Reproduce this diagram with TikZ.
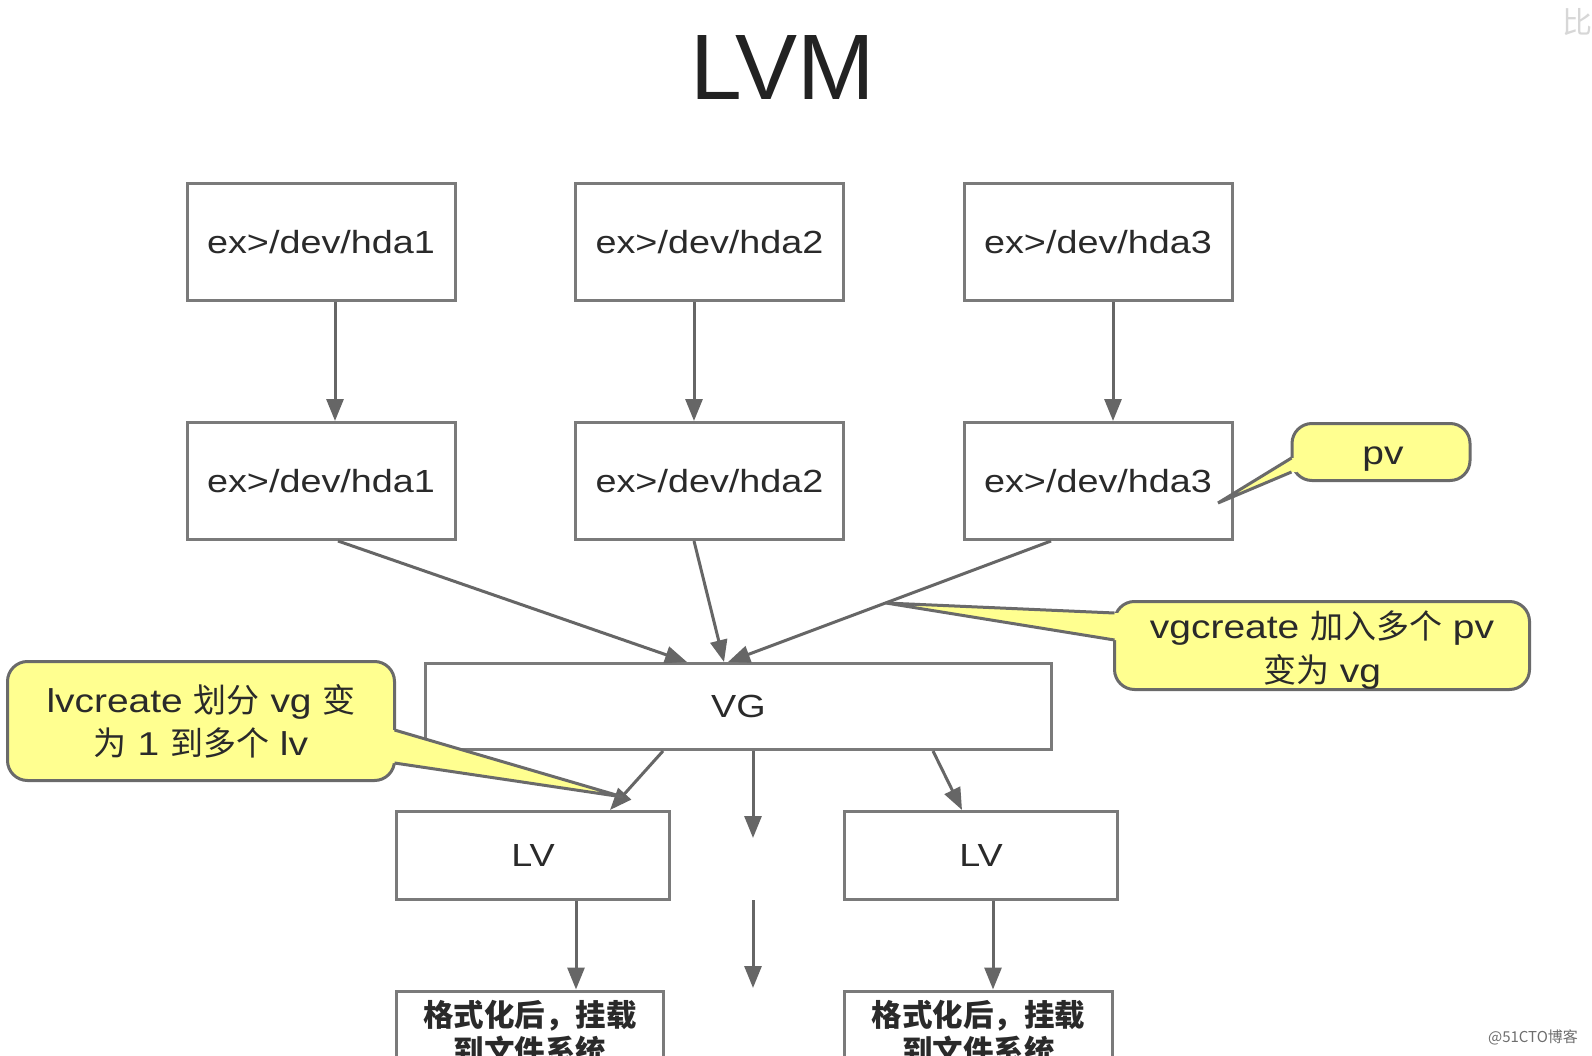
\documentclass[tikz,border=0pt]{standalone}
\usepackage{fontspec}
\setmainfont{Liberation Sans}[FakeStretch=1.18]
\newfontfamily\titlefont{Liberation Sans}
\newfontfamily\cjk{Noto Sans CJK SC}
\usetikzlibrary{arrows.meta}
\definecolor{boxline}{HTML}{7A7A7A}
\definecolor{arrline}{HTML}{666666}
\definecolor{txt}{HTML}{2A2A2A}
\definecolor{cfill}{HTML}{FFFF90}
\definecolor{cline}{HTML}{6A6A6A}
\begin{document}
\begin{tikzpicture}[x=1pt,y=-1pt,
  box/.style={draw=boxline, line width=3pt, fill=white, minimum width=268pt, minimum height=117pt, inner sep=0pt, text=txt, font=\fontsize{32}{38}\selectfont},
  arr/.style={draw=arrline, line width=3pt, -{Triangle[length=22pt,width=17pt]}},
  cbody/.style={draw=cline, line width=3pt, fill=cfill, rounded corners=20pt, inner sep=0pt, text=txt, font=\fontsize{33}{43}\selectfont, align=center},
  cptr/.style={draw=cline, line width=3pt, line join=miter},
  ftext/.style={text=txt, align=center, font=\cjk\bfseries\fontsize{30.5}{36}\selectfont}]
\useasboundingbox (0,0) rectangle (1592,1056);
\clip (0,0) rectangle (1592,1056);
\fill[white] (0,0) rectangle (1592,1056);

% title
\node[anchor=base, text={rgb,255:red,34;green,34;blue,34}, font=\titlefont\fontsize{93}{100}\selectfont, inner sep=0pt] (title) at (783,100) {LVM};

% top row
\node[box] (t1) at (321,242.5) {ex>/dev/hda1};
\node[box] (t2) at (709.5,242.5) {ex>/dev/hda2};
\node[box] (t3) at (1098,242.5) {ex>/dev/hda3};
% second row
\node[box] (p1) at (321,481) {ex>/dev/hda1};
\node[box] (p2) at (709.5,481) {ex>/dev/hda2};
\node[box] (p3) at (1098,481) {ex>/dev/hda3};
% VG
\node[box, minimum width=626pt, minimum height=86pt] (vg) at (738.5,706.5) {VG};
% LV
\node[box, minimum width=273pt, minimum height=88pt] (lv1) at (533,855.5) {LV};
\node[box, minimum width=273pt, minimum height=88pt] (lv2) at (981,855.5) {LV};
% bottom boxes
\node[box, minimum width=267pt, minimum height=140pt, anchor=north] (f1) at (530,989.5) {};
\node[box, minimum width=268pt, minimum height=140pt, anchor=north] (f2) at (978.5,989.5) {};
\node[ftext] (f1t) at (530,1033) {格式化后，挂载\\到文件系统};
\node[ftext] (f2t) at (978.5,1033) {格式化后，挂载\\到文件系统};

% arrows
\draw[arr] ([xshift=14pt]t1.south) -- ([xshift=14pt]p1.north);
\draw[arr] ([xshift=-15.5pt]t2.south) -- ([xshift=-15.5pt]p2.north);
\draw[arr] ([xshift=15pt]t3.south) -- ([xshift=15pt]p3.north);

\draw[arr] ([xshift=17pt]p1.south) -- ([xshift=-51.5pt]vg.north);
\draw[arr] ([xshift=-15.5pt]p2.south) -- ([xshift=-14.5pt]vg.north);
\draw[arr] ([xshift=-47pt]p3.south) -- ([xshift=-10.5pt]vg.north);

\coordinate (m1) at (753,838);
\coordinate (m2s) at (753,900);
\coordinate (m2e) at (753,988);
\draw[arr] ([xshift=14.5pt]vg.south) -- (m1);
\draw[arr] (m2s) -- (m2e);

\draw[arr] ([xshift=-75.5pt]vg.south) -- ([xshift=77pt]lv1.north);
\draw[arr] ([xshift=194.5pt]vg.south) -- ([xshift=-19pt]lv2.north);

\draw[arr] ([xshift=43pt]lv1.south) -- ([xshift=46pt]f1.north);
\draw[arr] ([xshift=12pt]lv2.south) -- ([xshift=14.5pt]f2.north);

% callout: pv
\node[cbody, minimum width=178pt, minimum height=57pt] (pvb) at (1381,452) {};
\node[text=txt, font=\fontsize{33}{43}\selectfont, inner sep=0pt] (pvt) at (1383,459) {pv};
\coordinate (pvA) at (1291.5,458);
\coordinate (pvB) at (1291.5,472);
\coordinate (pvT) at (1218,503);
\fill[cfill] (pvT) -- (pvA) -- ([xshift=6pt]pvA) -- ([xshift=6pt]pvB) -- (pvB) -- cycle;
\draw[cptr] (pvA) -- (pvT) -- (pvB);

% callout: vgcreate
\node[cbody, minimum width=415pt, minimum height=88pt] (vgb) at (1322,645.5) {};
\node[text=txt, font=\fontsize{33}{44}\selectfont, align=center, inner sep=0pt] (vgt) at (1322,650) {vgcreate {\cjk 加入多个} pv\\{\cjk 变为} vg};
\coordinate (vgA) at (1114.5,613);
\coordinate (vgB) at (1114.5,640);
\coordinate (vgT) at (886,603);
\fill[cfill] (vgT) -- (vgA) -- ([xshift=6pt]vgA) -- ([xshift=6pt]vgB) -- (vgB) -- cycle;
\draw[cptr] (vgA) -- (vgT) -- (vgB);

% callout: lvcreate
\node[cbody, minimum width=387pt, minimum height=119pt] (lvb) at (201,721) {lvcreate {\cjk 划分} vg {\cjk 变}\\{\cjk 为} 1 {\cjk 到多个} lv};
\coordinate (lvA) at (394.5,730);
\coordinate (lvB) at (394.5,763);
\coordinate (lvT) at (623,797);
\fill[cfill] (lvT) -- (lvA) -- ([xshift=-6pt]lvA) -- ([xshift=-6pt]lvB) -- (lvB) -- cycle;
\draw[cptr] (lvA) -- (lvT) -- (lvB);

% stray marks
\node[text={rgb,255:red,215;green,215;blue,215}, font=\cjk\fontsize{30}{30}\selectfont, inner sep=0pt] (bi) at (1577,22) {比};
\node[text={rgb,255:red,110;green,110;blue,110}, font=\cjk\fontsize{15}{15}\selectfont, inner sep=0pt] (wm) at (1533,1037) {@51CTO博客};
\end{tikzpicture}
\end{document}
